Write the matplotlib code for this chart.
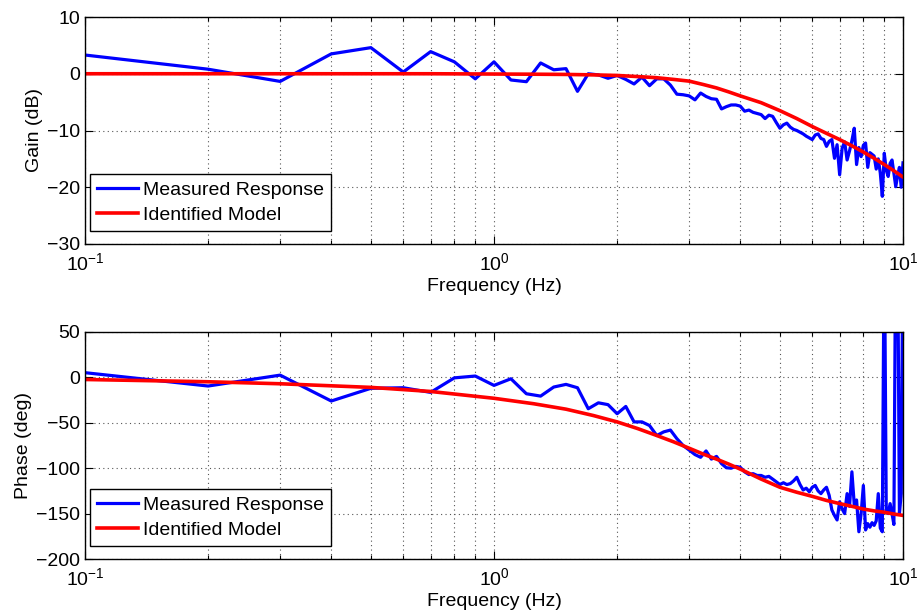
import numpy as np
import matplotlib
matplotlib.use("Agg")
import matplotlib.pyplot as plt
from matplotlib.ticker import LogLocator, FixedLocator, NullFormatter

plt.rcParams['font.family'] = ['Liberation Sans', 'DejaVu Sans']
plt.rcParams['mathtext.fontset'] = 'custom'
plt.rcParams['mathtext.rm'] = 'Liberation Sans'
plt.rcParams['mathtext.it'] = 'Liberation Sans'
plt.rcParams['axes.unicode_minus'] = True

# Measured frequency response, 0.1 Hz to 10 Hz in 0.1 Hz steps
freq_meas = np.round(np.arange(1, 101) * 0.1, 1)

gain_meas = [
    3.3, 0.8, -1.35, 3.5, 4.6, 0.3, 3.9, 2.1, -0.9, 2.1,
    -1.1, -1.4, 1.9, 0.7, 0.9, -3.1, 0.0, -0.2, -0.8, -0.3,
    -1.0, -1.8, -0.6, -2.1, -0.9, -0.9, -2.0, -3.6, -3.7, -3.9,
    -4.6, -3.4, -4.0, -4.4, -4.5, -6.2, -5.8, -5.5, -5.5, -5.7,
    -6.6, -6.4, -6.8, -7.0, -7.2, -7.9, -7.3, -7.5, -8.6, -9.6,
    -9.0, -8.7, -9.4, -9.8, -10.0, -10.3, -10.6, -11.0, -11.3, -11.6,
    -10.8, -10.6, -11.4, -11.6, -12.8, -11.9, -11.6, -14.9, -12.5, -17.8,
    -13.1, -12.0, -15.2, -13.6, -11.8, -9.6, -16.0, -13.0, -14.6, -12.6,
    -12.2, -16.5, -13.9, -14.2, -14.5, -16.8, -15.0, -17.5, -21.6, -14.0,
    -17.0, -18.1, -15.8, -15.2, -17.5, -19.9, -18.0, -16.5, -20.0, -15.7,
]

phase_meas = [
    5.2, -9.5, 2.5, -26, -12, -11.4, -16.5, -0.5, 1.5, -8.8,
    -1.5, -18, -20.6, -10.6, -7.7, -11.4, -34.5, -28, -30, -40,
    -32, -49, -49, -53, -64, -60, -58, -67.5, -75, -80,
    -85, -88, -81, -90, -87, -95, -99.5, -100, -98, -99,
    -104, -107, -106, -108, -108, -110, -109, -112, -115, -118,
    -116, -118, -117, -114, -110, -118, -124, -122, -126, -121,
    -119, -125, -128, -124, -121, -130, -146, -152, -157, -137,
    -145, -150, -128, -142, -104, -140, -135, -170, -150, -119,
    -168, -161, -165, -160, -163, -158, -128, -166, -170, 170,
    -146, -150, -139, -150, -162, 165, 160, -150, -128, 170,
]

# Identified model response
freq_model = [0.1, 0.2, 0.3, 0.5, 0.7, 1.0, 1.25, 1.5, 1.75, 2.0, 2.25, 2.5,
              2.75, 3.0, 3.25, 3.5, 3.75, 4.0, 4.5, 5.0, 5.5, 6.0, 6.5, 7.0,
              7.5, 8.0, 8.5, 9.0, 9.5, 10.0]
gain_model = [0.0, 0.0, 0.0, 0.0, 0.0, -0.05, -0.08, -0.12, -0.2, -0.3, -0.5, -0.7,
              -1.0, -1.3, -1.9, -2.5, -3.2, -3.9, -5.1, -6.5, -7.9, -9.3, -10.5, -11.6,
              -12.7, -13.8, -14.9, -16.0, -17.1, -18.2]
phase_model = [-2.3, -4.8, -7.0, -11.0, -15.5, -23.0, -29.0, -35.0, -42.0, -49.0, -56.5, -64.0,
               -71.0, -78.0, -84.5, -90.0, -95.5, -101.0, -112.0, -121.0, -126.5, -131.0, -135.5, -139.0,
               -142.0, -145.0, -147.0, -148.5, -150.5, -152.0]

legend_labels = ['Measured Response', 'Identified Model']
gain_ticks = [10, 0, -10, -20, -30]
phase_ticks = [50, 0, -50, -100, -150, -200]

fig = plt.figure(figsize=(9.17, 6.12), dpi=100)
ax_g = fig.add_axes([85 / 917, 1 - 244 / 612, 818 / 917, 227 / 612])
ax_p = fig.add_axes([85 / 917, 1 - 559 / 612, 818 / 917, 227 / 612])

fs = 14


def style_axis(ax, yticks, ylim, ylabel):
    ax.set_xscale('log')
    ax.set_xlim(0.1, 10)
    ax.set_ylim(*ylim)
    ax.yaxis.set_major_locator(FixedLocator(yticks))
    ax.set_yticklabels([str(t).replace('-', '\u2212') for t in yticks])
    ax.xaxis.set_major_locator(LogLocator(base=10, numticks=10))
    ax.xaxis.set_minor_locator(LogLocator(base=10, subs=np.arange(2, 10), numticks=10))
    ax.xaxis.set_minor_formatter(NullFormatter())
    ax.grid(True, which='major', axis='both', linestyle=(0, (1, 3)), color='#555555', linewidth=0.8)
    ax.grid(True, which='minor', axis='x', linestyle=(0, (1, 3)), color='#555555', linewidth=0.8)
    ax.tick_params(which='both', direction='in', top=True, right=True, labelsize=fs,
                   width=0.8, color='black')
    ax.tick_params(axis='x', which='major', pad=6)
    ax.tick_params(which='major', length=6)
    ax.tick_params(which='minor', length=3)
    for sp in ax.spines.values():
        sp.set_linewidth(1.0)
    ax.set_xlabel('Frequency (Hz)', fontsize=fs, labelpad=3)
    ax.set_ylabel(ylabel, fontsize=fs, labelpad=3)
    ax.set_axisbelow(True)


ax_g.plot(freq_meas, gain_meas, color='#0000ff', linewidth=2.3, label=legend_labels[0])
ax_g.plot(freq_model, gain_model, color='#ff0000', linewidth=2.6, label=legend_labels[1])
style_axis(ax_g, gain_ticks, (-30, 10), 'Gain (dB)')

ax_p.plot(freq_meas, phase_meas, color='#0000ff', linewidth=2.3, label=legend_labels[0])
ax_p.plot(freq_model, phase_model, color='#ff0000', linewidth=2.6, label=legend_labels[1])
style_axis(ax_p, phase_ticks, (-200, 50), 'Phase (deg)')

for ax in (ax_g, ax_p):
    leg = ax.legend(loc='lower left', bbox_to_anchor=(0.006, 0.058), fontsize=fs,
                    fancybox=False, framealpha=1, edgecolor='black', handlelength=2.1,
                    borderpad=0.35, labelspacing=0.4, handletextpad=0.3, borderaxespad=0)
    leg.get_frame().set_linewidth(1.0)

fig.savefig('out.png', dpi=100)
